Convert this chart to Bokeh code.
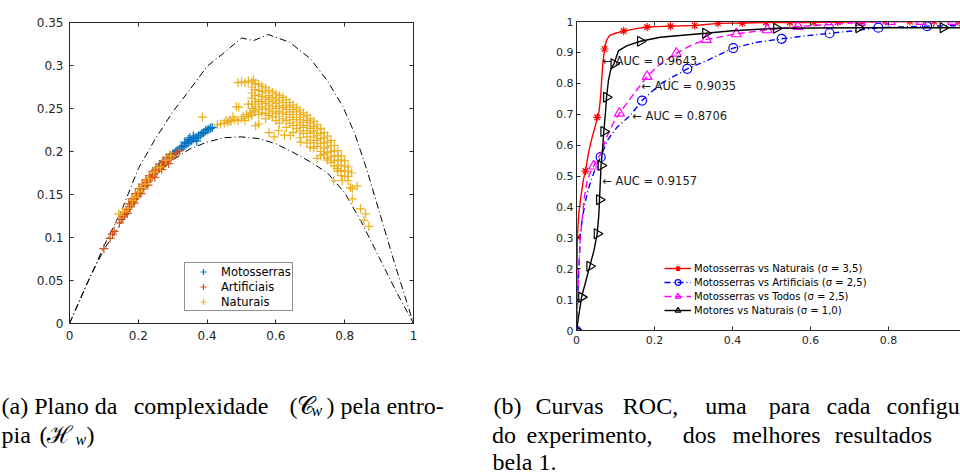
import math
from bokeh.plotting import figure
from bokeh.models import (Range1d, LinearAxis, FixedTicker, Label, Legend, LegendItem,
                          CustomJSTickFormatter)
from bokeh.layouts import column, row
from bokeh.embed import file_html
from bokeh.resources import INLINE

# ---------------- Panel (a): complexity-entropy plane ----------------
a_xticks = [0, 0.2, 0.4, 0.6, 0.8, 1]
a_xlabels = ["0", "0.2", "0.4", "0.6", "0.8", "1"]
a_yticks = [0, 0.05, 0.1, 0.15, 0.2, 0.25, 0.3, 0.35]
a_ylabels = ["0", "0.05", "0.1", "0.15", "0.2", "0.25", "0.3", "0.35"]

upper_H = [0, 0.05, 0.1, 0.15, 0.2, 0.25, 0.3, 0.35, 0.4, 0.45, 0.5, 0.535, 0.578, 0.64,
           0.7, 0.75, 0.795, 0.83, 0.865, 0.905, 0.945, 1.0]
upper_C = [0, 0.045, 0.09, 0.13, 0.18, 0.215, 0.246, 0.272, 0.299, 0.315, 0.332, 0.329, 0.336,
           0.327, 0.308, 0.282, 0.252, 0.22, 0.178, 0.124, 0.07, 0.0]
lower_H = [0, 0.05, 0.1, 0.15, 0.2, 0.25, 0.3, 0.35, 0.4, 0.45, 0.5, 0.55, 0.6, 0.65, 0.7,
           0.75, 0.8, 0.85, 0.9, 0.95, 1.0]
lower_C = [0, 0.046, 0.086, 0.117, 0.146, 0.172, 0.19, 0.203, 0.211, 0.216, 0.217, 0.215,
           0.209, 0.199, 0.188, 0.175, 0.152, 0.117, 0.077, 0.037, 0.0]

moto_H = [0.25, 0.26, 0.265, 0.27, 0.275, 0.28, 0.285, 0.29, 0.30, 0.305, 0.31, 0.315, 0.32,
          0.325, 0.33, 0.335, 0.34, 0.345, 0.35, 0.355, 0.36, 0.365, 0.37, 0.375, 0.38,
          0.385, 0.39, 0.395, 0.40, 0.405, 0.41, 0.415, 0.335, 0.35, 0.36, 0.37, 0.345]
moto_C = [0.178, 0.182, 0.184, 0.186, 0.187, 0.19, 0.191, 0.193, 0.197, 0.198, 0.2, 0.201,
          0.203, 0.205, 0.206, 0.207, 0.209, 0.21, 0.212, 0.213, 0.215, 0.216, 0.216, 0.218,
          0.219, 0.221, 0.222, 0.224, 0.225, 0.226, 0.227, 0.228, 0.211, 0.216, 0.218, 0.212,
          0.214]

arti_H = [0.100, 0.118, 0.125, 0.13, 0.145, 0.15, 0.155, 0.16, 0.165, 0.17, 0.175, 0.18,
          0.185, 0.19, 0.195, 0.20, 0.205, 0.21, 0.215, 0.22, 0.225, 0.23, 0.235, 0.24, 0.245,
          0.25, 0.255, 0.26, 0.265, 0.27, 0.275, 0.28, 0.285, 0.29, 0.295, 0.30, 0.31, 0.32,
          0.172, 0.182, 0.192, 0.202, 0.212, 0.222, 0.232, 0.242, 0.252, 0.262, 0.272, 0.282,
          0.292, 0.168, 0.188, 0.208, 0.228, 0.248, 0.268, 0.288]
arti_C = [0.087, 0.099, 0.104, 0.107, 0.117, 0.121, 0.124, 0.127, 0.13, 0.133, 0.136, 0.139,
          0.142, 0.145, 0.148, 0.151, 0.153, 0.156, 0.159, 0.161, 0.164, 0.166, 0.169, 0.171,
          0.173, 0.176, 0.178, 0.18, 0.182, 0.184, 0.186, 0.188, 0.19, 0.191, 0.193, 0.195,
          0.198, 0.201,
          0.139, 0.145, 0.151, 0.157, 0.162, 0.167, 0.172, 0.177, 0.181, 0.185, 0.189, 0.193,
          0.196, 0.128, 0.14, 0.151, 0.161, 0.17, 0.179, 0.186]

nat_H = [
    # along the low-entropy branch
    0.143, 0.155, 0.17, 0.182, 0.19, 0.2, 0.21, 0.22, 0.23, 0.245, 0.255, 0.265, 0.28, 0.294,
    0.386,
    # tail towards the cluster
    0.43, 0.439, 0.45, 0.455, 0.46, 0.465, 0.47, 0.475, 0.48, 0.49, 0.50, 0.505, 0.51, 0.515,
    0.52, 0.525, 0.53, 0.535, 0.541, 0.55, 0.485, 0.492, 0.52,
    # upper edge of the cluster
    0.49, 0.50, 0.51, 0.52, 0.53, 0.535, 0.54, 0.55, 0.56, 0.57, 0.58, 0.59, 0.60, 0.61, 0.62,
    0.63, 0.64, 0.65, 0.66, 0.67, 0.68, 0.69, 0.70, 0.71, 0.72, 0.73, 0.74, 0.75, 0.76, 0.77,
    0.78, 0.79, 0.80, 0.81, 0.82,
    # interior
    0.53, 0.53, 0.53, 0.53, 0.53,
    0.54, 0.54, 0.54, 0.54, 0.54,
    0.55, 0.55, 0.55, 0.55, 0.55, 0.55,
    0.56, 0.56, 0.56, 0.56, 0.56,
    0.57, 0.57, 0.57, 0.57, 0.57, 0.57,
    0.58, 0.58, 0.58, 0.58, 0.58,
    0.59, 0.59, 0.59, 0.59, 0.59,
    0.60, 0.60, 0.60, 0.60, 0.60,
    0.61, 0.61, 0.61, 0.61, 0.61,
    0.62, 0.62, 0.62, 0.62,
    0.63, 0.63, 0.63, 0.63, 0.63,
    0.64, 0.64, 0.64, 0.64,
    0.65, 0.65, 0.65, 0.65, 0.65,
    0.66, 0.66, 0.66, 0.66,
    0.67, 0.67, 0.67, 0.67, 0.67,
    0.68, 0.68, 0.68, 0.68,
    0.69, 0.69, 0.69, 0.69, 0.69,
    0.70, 0.70, 0.70, 0.70,
    0.71, 0.71, 0.71, 0.71, 0.71,
    0.72, 0.72, 0.72, 0.72,
    0.73, 0.73, 0.73, 0.73, 0.73,
    0.74, 0.74, 0.74, 0.74,
    0.75, 0.75, 0.75, 0.75,
    0.76, 0.76, 0.76, 0.76,
    0.77, 0.77, 0.77, 0.77,
    0.78, 0.78, 0.78, 0.78,
    0.79, 0.79, 0.79, 0.79,
    0.80, 0.80, 0.80,
    0.81, 0.81, 0.81,
    # outliers
    0.608, 0.625, 0.642, 0.672, 0.70, 0.72, 0.739, 0.749, 0.768, 0.778, 0.793, 0.817, 0.836,
    0.822, 0.822, 0.846, 0.861, 0.856, 0.87, 0.58, 0.595,
]
nat_C = [
    0.1275, 0.13, 0.134, 0.143, 0.147, 0.153, 0.158, 0.162, 0.168, 0.176, 0.181, 0.182, 0.19,
    0.195,
    0.240,
    0.231, 0.232, 0.233, 0.236, 0.234, 0.236, 0.235, 0.24, 0.237, 0.236, 0.238, 0.241, 0.236,
    0.243, 0.24, 0.245, 0.242, 0.247, 0.230, 0.232, 0.252, 0.2515, 0.255,
    0.280, 0.281, 0.280, 0.282, 0.281, 0.283, 0.279, 0.278, 0.276, 0.274, 0.271, 0.269, 0.267,
    0.265, 0.263, 0.26, 0.257, 0.254, 0.251, 0.248, 0.245, 0.242, 0.238, 0.235, 0.231, 0.227,
    0.222, 0.218, 0.213, 0.207, 0.201, 0.195, 0.189, 0.182, 0.175,
    0.275, 0.268, 0.262, 0.255, 0.25,
    0.272, 0.265, 0.258, 0.252, 0.246,
    0.271, 0.266, 0.26, 0.255, 0.249, 0.243,
    0.27, 0.264, 0.258, 0.252, 0.245,
    0.268, 0.262, 0.256, 0.25, 0.244, 0.238,
    0.265, 0.26, 0.254, 0.248, 0.242,
    0.263, 0.258, 0.252, 0.246, 0.24,
    0.261, 0.256, 0.25, 0.244, 0.236,
    0.259, 0.253, 0.247, 0.241, 0.233,
    0.257, 0.251, 0.245, 0.238,
    0.254, 0.249, 0.243, 0.236, 0.228,
    0.252, 0.246, 0.24, 0.233,
    0.249, 0.243, 0.237, 0.23, 0.222,
    0.246, 0.24, 0.234, 0.227,
    0.243, 0.237, 0.231, 0.224, 0.216,
    0.24, 0.234, 0.228, 0.221,
    0.236, 0.23, 0.224, 0.217, 0.21,
    0.233, 0.227, 0.221, 0.213,
    0.229, 0.223, 0.217, 0.21, 0.204,
    0.225, 0.219, 0.213, 0.206,
    0.221, 0.215, 0.209, 0.2, 0.195,
    0.216, 0.21, 0.204, 0.197,
    0.211, 0.205, 0.199, 0.192,
    0.207, 0.2, 0.194, 0.187,
    0.201, 0.195, 0.189, 0.183,
    0.195, 0.19, 0.184, 0.177,
    0.19, 0.184, 0.178, 0.172,
    0.183, 0.177, 0.171,
    0.177, 0.171, 0.166,
    0.2244, 0.219, 0.2186, 0.211, 0.205, 0.192, 0.197, 0.19, 0.166, 0.18, 0.166, 0.158, 0.16,
    0.1566, 0.145, 0.1333, 0.1275, 0.12, 0.1129, 0.222, 0.217,
]

# ---------------- Panel (b): ROC curves ----------------
b_xticks = [0, 0.2, 0.4, 0.6, 0.8, 1]
b_xlabels = ["0", "0.2", "0.4", "0.6", "0.8", "1"]
b_yticks = [0, 0.1, 0.2, 0.3, 0.4, 0.5, 0.6, 0.7, 0.8, 0.9, 1]
b_ylabels = ["0", "0.1", "0.2", "0.3", "0.4", "0.5", "0.6", "0.7", "0.8", "0.9", "1"]

red_fpr = [0, 0.001, 0.002, 0.006, 0.012, 0.018, 0.023, 0.03, 0.04, 0.048, 0.053, 0.058, 0.062,
           0.065, 0.068, 0.072, 0.077, 0.085, 0.1, 0.121, 0.15, 0.181, 0.241, 0.303, 0.363,
           0.425, 0.486, 0.609, 0.731, 0.792, 1.0]
red_tpr = [0, 0.1, 0.302, 0.38, 0.44, 0.49, 0.516, 0.57, 0.625, 0.66, 0.69, 0.71, 0.76, 0.82,
           0.87, 0.911, 0.94, 0.955, 0.962, 0.969, 0.976, 0.982, 0.985, 0.987, 0.994, 0.995,
           0.997, 0.997, 0.999, 1.0, 1.0]
red_mk_fpr = [0, 0.002, 0.023, 0.053, 0.072, 0.121, 0.181, 0.241, 0.303, 0.363, 0.425, 0.486,
              0.547, 0.609, 0.670, 0.731, 0.792, 0.855, 0.917, 0.978]
red_mk_tpr = [0, 0.302, 0.516, 0.690, 0.911, 0.969, 0.982, 0.985, 0.987, 0.994, 0.995, 0.997,
              0.997, 0.997, 0.998, 0.999, 1.0, 1.0, 1.0, 1.0]

blue_fpr = [0, 0.003, 0.006, 0.010, 0.016, 0.023, 0.032, 0.04, 0.05, 0.062, 0.079, 0.104,
            0.138, 0.168, 0.215, 0.284, 0.335, 0.402, 0.463, 0.526, 0.584, 0.649, 0.712,
            0.774, 0.899, 1.0]
blue_tpr = [0, 0.1, 0.2, 0.313, 0.37, 0.42, 0.464, 0.495, 0.53, 0.561, 0.615, 0.658, 0.696,
            0.744, 0.798, 0.847, 0.874, 0.914, 0.933, 0.944, 0.953, 0.962, 0.97, 0.98, 0.985,
            0.987]
blue_mk_fpr = [0, 0.062, 0.168, 0.284, 0.402, 0.526, 0.649, 0.774, 0.899]
blue_mk_tpr = [0, 0.561, 0.744, 0.847, 0.914, 0.944, 0.962, 0.980, 0.985]

mag_fpr = [0, 0.003, 0.006, 0.010, 0.015, 0.02, 0.027, 0.035, 0.044, 0.052, 0.062, 0.079,
           0.096, 0.110, 0.147, 0.181, 0.215, 0.256, 0.292, 0.333, 0.41, 0.489, 0.568, 0.647,
           0.728, 0.805, 1.0]
mag_tpr = [0, 0.1, 0.205, 0.3, 0.366, 0.43, 0.482, 0.51, 0.532, 0.55, 0.572, 0.631, 0.675,
           0.703, 0.766, 0.822, 0.863, 0.897, 0.922, 0.942, 0.960, 0.973, 0.984, 0.99, 0.997,
           1.0, 1.0]
mag_mk_fpr = [0, 0.044, 0.110, 0.181, 0.256, 0.333, 0.41, 0.489, 0.568, 0.647, 0.728, 0.805,
              0.884, 0.965]
mag_mk_tpr = [0, 0.532, 0.703, 0.822, 0.897, 0.942, 0.960, 0.973, 0.984, 0.990, 0.997, 1.0,
              1.0, 1.0]

blk_fpr = [0, 0.013, 0.034, 0.045, 0.053, 0.057, 0.059, 0.061, 0.063, 0.067, 0.070, 0.074,
           0.077, 0.082, 0.088, 0.096, 0.108, 0.13, 0.164, 0.215, 0.25, 0.331, 0.4, 0.513,
           0.724, 1.0]
blk_tpr = [0, 0.108, 0.208, 0.26, 0.313, 0.37, 0.423, 0.48, 0.534, 0.59, 0.644, 0.70, 0.755,
           0.81, 0.845, 0.863, 0.906, 0.922, 0.936, 0.949, 0.953, 0.962, 0.97, 0.978, 0.98,
           0.98]
blk_mk_fpr = [0, 0.013, 0.034, 0.053, 0.059, 0.063, 0.070, 0.077, 0.096, 0.164, 0.331, 0.513,
              0.724, 0.940]
blk_mk_tpr = [0, 0.108, 0.208, 0.313, 0.423, 0.534, 0.644, 0.755, 0.863, 0.936, 0.962, 0.978,
              0.980, 0.980]

legend_labels = ["Motosserras vs Naturais (σ = 3,5)",
                 "Motosserras vs Artificiais (σ = 2,5)",
                 "Motosserras vs Todos (σ = 2,5)",
                 "Motores vs Naturais (σ = 1,0)"]
auc_texts = ["← AUC = 0.9643", "← AUC = 0.9035", "← AUC = 0.8706", "← AUC = 0.9157"]
auc_x = [0.066, 0.166, 0.143, 0.066]
auc_y = [0.871, 0.790, 0.694, 0.485]

AX = "#262626"
FONT = "DejaVu Sans"
SERIF = "Liberation Serif"


def fmt(ticks, labels):
    return CustomJSTickFormatter(
        args=dict(tv=ticks, tl=labels),
        code="const i = tv.findIndex(t => Math.abs(t - tick) < 1e-9); return i >= 0 ? tl[i] : '';")


def style_axis(ax, ticks, labels, fs, standoff, show=True):
    ax.ticker = FixedTicker(ticks=ticks)
    ax.major_tick_in = 4
    ax.major_tick_out = 0
    ax.minor_tick_line_color = None
    ax.axis_line_color = AX
    ax.axis_line_width = 1
    ax.major_tick_line_color = AX
    ax.major_label_text_color = AX
    ax.major_label_text_font = FONT
    ax.major_label_text_font_size = fs
    ax.major_label_standoff = standoff
    ax.formatter = fmt(ticks, labels) if show else CustomJSTickFormatter(code="return '';")


# ----- figure (a)
pa = figure(width=496, height=372, x_range=Range1d(0, 1), y_range=Range1d(0, 0.35),
            output_backend="svg", toolbar_location=None, title=None,
            min_border_left=69, min_border_right=83, min_border_top=22, min_border_bottom=49)
pa.grid.visible = False
pa.outline_line_color = AX
pa.outline_line_width = 1
style_axis(pa.xaxis[0], a_xticks, a_xlabels, "12px", 7)
style_axis(pa.yaxis[0], a_yticks, a_ylabels, "12px", 6)
ta = LinearAxis()
style_axis(ta, a_xticks, a_xlabels, "12px", 0, show=False)
pa.add_layout(ta, "above")
ra = LinearAxis()
style_axis(ra, a_yticks, a_ylabels, "12px", 0, show=False)
pa.add_layout(ra, "right")

pa.line(upper_H, upper_C, line_color="black", line_width=1, line_dash="7 3 1 3")
pa.line(lower_H, lower_C, line_color="black", line_width=1, line_dash="7 3 1 3")
r_m = pa.scatter(moto_H, moto_C, marker="cross", size=9, line_color="#0072BD", line_width=1.2)
r_a = pa.scatter(arti_H, arti_C, marker="cross", size=9, line_color="#D95319", line_width=1.2)
r_n = pa.scatter(nat_H, nat_C, marker="cross", size=9, line_color="#EDB120", line_width=1.2)

leg_a = Legend(items=[LegendItem(label="Motosserras", renderers=[r_m]),
                      LegendItem(label="Artificiais", renderers=[r_a]),
                      LegendItem(label="Naturais", renderers=[r_n])],
               location=(115, 12), orientation="vertical",
               label_text_font=FONT, label_text_font_size="11.5px", label_text_color="black",
               glyph_width=34, glyph_height=15, label_height=15, label_standoff=1,
               spacing=0, padding=1, margin=0,
               border_line_color=AX, border_line_width=1, background_fill_color="white")
pa.add_layout(leg_a, "center")

pa.add_layout(Label(x=168.5, y=-34.5, x_units="screen", y_units="screen", text="H",
                    text_font=FONT, text_font_size="16px", text_color=AX,
                    text_align="center", text_baseline="middle"))
pa.add_layout(Label(x=179.5, y=-41.5, x_units="screen", y_units="screen", text="w",
                    text_font=FONT, text_font_size="11px", text_color=AX,
                    text_align="center", text_baseline="middle"))
pa.add_layout(Label(x=-47, y=150, x_units="screen", y_units="screen", text="C",
                    angle=math.pi / 2, text_font=FONT, text_font_size="16px", text_color=AX,
                    text_align="center", text_baseline="middle"))
pa.add_layout(Label(x=-42, y=162, x_units="screen", y_units="screen", text="w",
                    angle=math.pi / 2, text_font=FONT, text_font_size="11px", text_color=AX,
                    text_align="center", text_baseline="middle"))

# ----- figure (b)
pb = figure(width=464, height=372, x_range=Range1d(0, 384 / 390), y_range=Range1d(0, 1),
            output_backend="svg", toolbar_location=None, title=None,
            min_border_left=80, min_border_right=0, min_border_top=21, min_border_bottom=42)
pb.grid.visible = False
pb.outline_line_color = None
style_axis(pb.xaxis[0], b_xticks, b_xlabels, "11px", 5)
style_axis(pb.yaxis[0], b_yticks, b_ylabels, "11px", 3)
tb = LinearAxis()
style_axis(tb, b_xticks, b_xlabels, "11px", 0, show=False)
pb.add_layout(tb, "above")

l1 = pb.line(red_fpr, red_tpr, line_color="#FF0000", line_width=1.4)
s1 = pb.scatter(red_mk_fpr, red_mk_tpr, marker="asterisk", size=8, line_color="#FF0000",
                line_width=1.2)
l2 = pb.line(blue_fpr, blue_tpr, line_color="#0000FF", line_width=1.4, line_dash="6 3 1 3")
s2 = pb.scatter(blue_mk_fpr, blue_mk_tpr, marker="circle", size=9, line_color="#0000FF",
                fill_color=None, line_width=1.2)
l3 = pb.line(mag_fpr, mag_tpr, line_color="#FF00FF", line_width=1.4, line_dash="7 4")
s3 = pb.scatter(mag_mk_fpr, mag_mk_tpr, marker="triangle", size=10, line_color="#FF00FF",
                fill_color=None, line_width=1.2)
l4 = pb.line(blk_fpr, blk_tpr, line_color="black", line_width=1.4)
s4 = pb.scatter(blk_mk_fpr, blk_mk_tpr, marker="triangle", angle=-math.pi / 2, size=10,
                line_color="black", fill_color=None, line_width=1.2)

leg_b = Legend(items=[LegendItem(label=legend_labels[0], renderers=[l1, s1]),
                      LegendItem(label=legend_labels[1], renderers=[l2, s2]),
                      LegendItem(label=legend_labels[2], renderers=[l3, s3]),
                      LegendItem(label=legend_labels[3], renderers=[l4, s4])],
               location=(88, 13), orientation="vertical",
               label_text_font=FONT, label_text_font_size="10px", label_text_color="black",
               glyph_width=27, glyph_height=14, label_height=14, label_standoff=3,
               spacing=0, padding=0, margin=0,
               border_line_color=None, background_fill_alpha=0)
pb.add_layout(leg_b, "center")

for t, x, y in zip(auc_texts, auc_x, auc_y):
    pb.add_layout(Label(x=x, y=y, text=t, text_font=FONT, text_font_size="11.5px",
                        text_color="#1a1a1a", text_align="left", text_baseline="middle"))

pb.add_layout(Label(x=-36, y=154, x_units="screen", y_units="screen", text="TPR",
                    angle=math.pi / 2, text_font=FONT, text_font_size="12.5px", text_color=AX,
                    text_align="center", text_baseline="middle"))
pb.add_layout(Label(x=195, y=-29, x_units="screen", y_units="screen", text="FPR",
                    text_font=FONT, text_font_size="12.5px", text_color=AX,
                    text_align="center", text_baseline="middle"))

# ----- captions
pc = figure(width=960, height=102, x_range=Range1d(0, 960), y_range=Range1d(102, 0),
            output_backend="svg", toolbar_location=None, x_axis_type=None, y_axis_type=None,
            title=None, min_border=0)
pc.grid.visible = False
pc.outline_line_color = None


def cap(x, y, t, size="24px", style="normal", align="left"):
    pc.add_layout(Label(x=x, y=y, text=t, text_font=SERIF, text_font_size=size,
                        text_font_style=style, text_color="black",
                        text_align=align, text_baseline="alphabetic"))


B1, B2, B3 = 33, 62, 89
cap(1, B1, "(a) Plano da")
cap(200.5, B1, "complexidade", align="center")
cap(289, B1, "(𝒞")
cap(311, B1 + 5, "w", "16px", "italic")
cap(326, B1, ") pela entro-")
cap(1, B2, "pia")
cap(39, B2, "(ℋ")
cap(75, B2 + 5, "w", "16px", "italic")
cap(86, B2, ")")

for x, w in zip([507, 569, 650, 725.5, 789, 848],
                ["(b)", "Curvas", "ROC,", "uma", "para", "cada"]):
    cap(x, B1, w, align="center")
cap(886, B1, "configu")
for x, w in zip([503.5, 589, 699, 776, 883],
                ["do", "experimento,", "dos", "melhores", "resultados"]):
    cap(x, B2, w, align="center")
cap(492, B3, "bela 1.")

layout = column(row(pa, column(pb)), pc)
open("out.html", "w").write(file_html(layout, INLINE))
